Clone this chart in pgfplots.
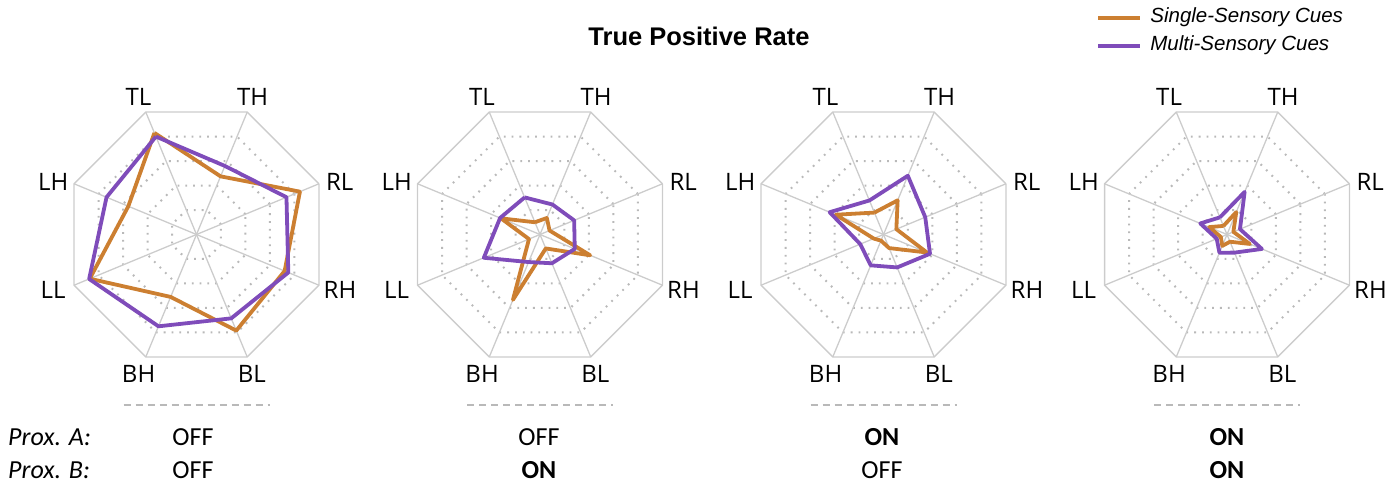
\documentclass[border=0pt]{standalone}
\usepackage{pgfplots}
\usepgfplotslibrary{polar}
\pgfplotsset{compat=1.18}
\usepackage{pgfplotstable}
\usepackage{fontspec}
\setmainfont{Liberation Sans}
\newfontfamily\labfont{Open Sans}
\newfontfamily\calfont{Carlito}

\definecolor{orangeC}{RGB}{204,127,49}
\definecolor{purpleC}{RGB}{127,76,186}
\definecolor{gridC}{RGB}{204,204,204}
\definecolor{dotC}{RGB}{185,185,185}
\definecolor{dashC}{RGB}{185,185,185}

% angle, single-sensory, multi-sensory
\pgfplotstableread{
a s m
112.5 0.830 0.800
67.5 0.475 0.560
22.5 0.845 0.735
337.5 0.720 0.750
292.5 0.785 0.685
247.5 0.510 0.750
202.5 0.872 0.877
157.5 0.557 0.735
112.5 0.830 0.800
}\tA
\pgfplotstableread{
a s m
112.5 0.100 0.303
67.5 0.135 0.245
22.5 0.078 0.279
337.5 0.410 0.284
292.5 0.114 0.235
247.5 0.534 0.225
202.5 0.090 0.459
157.5 0.319 0.326
112.5 0.100 0.303
}\tB
\pgfplotstableread{
a s m
112.5 0.179 0.278
67.5 0.279 0.480
22.5 0.105 0.341
337.5 0.355 0.380
292.5 0.111 0.269
247.5 0.050 0.252
202.5 0.080 0.190
157.5 0.390 0.440
112.5 0.179 0.278
}\tC
\pgfplotstableread{
a s m
112.5 0.070 0.140
67.5 0.183 0.348
22.5 0.052 0.106
337.5 0.186 0.285
292.5 0.059 0.148
247.5 0.093 0.149
202.5 0.050 0.084
157.5 0.146 0.218
112.5 0.070 0.140
}\tD

\newcommand{\ring}[2]{\addplot[forget plot,#2] coordinates {(22.5,#1) (67.5,#1) (112.5,#1) (157.5,#1) (202.5,#1) (247.5,#1) (292.5,#1) (337.5,#1) (22.5,#1)};}
\newcommand{\spoke}[1]{\addplot[forget plot,gridC,line width=1.3pt] coordinates {(#1,0) (#1,1)};}
\newcommand{\radargrid}{%
  \ring{0.2}{dotC,line width=2pt,dash pattern=on 1.8pt off 6pt}
  \ring{0.4}{dotC,line width=2pt,dash pattern=on 1.8pt off 6pt}
  \ring{0.6}{dotC,line width=2pt,dash pattern=on 1.8pt off 6pt}
  \ring{0.8}{dotC,line width=2pt,dash pattern=on 1.8pt off 6pt}
  \spoke{22.5}\spoke{67.5}\spoke{112.5}\spoke{157.5}
  \spoke{202.5}\spoke{247.5}\spoke{292.5}\spoke{337.5}
  \ring{1}{gridC,line width=1.3pt}
}
\newcommand{\radarlabels}{%
  \node[labfont] at (axis cs:112.8,1.128) {TL};
  \node[labfont] at (axis cs:67.9,1.124) {TH};
  \node[labfont] at (axis cs:20.0,1.150) {RL};
  \node[labfont] at (axis cs:-21.0,1.160) {RH};
  \node[labfont] at (axis cs:-68.4,1.133) {BL};
  \node[labfont] at (axis cs:-112.6,1.137) {BH};
  \node[labfont] at (axis cs:-159.0,1.160) {LL};
  \node[labfont] at (axis cs:160.0,1.150) {LH};
}
\tikzset{labfont/.style={font=\labfont\fontsize{24}{28}\selectfont, inner sep=0pt}}

\pgfplotsset{
  radar/.style={
    anchor=center, width=265pt, height=265pt, scale only axis,
    xmin=0, xmax=360, ymin=0, ymax=1,
    hide axis, clip=false,
  },
  single/.style={orangeC, line width=3.8pt, line join=round, no markers},
  multi/.style={purpleC, line width=3.8pt, line join=round, no markers},
}

\begin{document}
\begin{tikzpicture}
\useasboundingbox (0pt,0pt) rectangle (1398pt,485pt);

\begin{polaraxis}[radar, at={(196.5pt,250.5pt)}]
\radargrid
\addplot[single] table[x=a,y=s] {\tA};
\addplot[multi] table[x=a,y=m] {\tA};
\radarlabels
\end{polaraxis}

\begin{polaraxis}[radar, at={(540pt,250.5pt)}]
\radargrid
\addplot[single] table[x=a,y=s] {\tB};
\addplot[multi] table[x=a,y=m] {\tB};
\radarlabels
\end{polaraxis}

\begin{polaraxis}[radar, at={(883.5pt,250.5pt)}]
\radargrid
\addplot[single] table[x=a,y=s] {\tC};
\addplot[multi] table[x=a,y=m] {\tC};
\radarlabels
\end{polaraxis}

\begin{polaraxis}[radar, at={(1227pt,250.5pt)},
  legend style={at={(axis description cs:-0.005,1.368)}, anchor=north west, draw=none, fill=none,
    font=\fontsize{20.5}{24}\selectfont\itshape,
    nodes={inner sep=1pt, text height=15pt, text depth=5pt},
    row sep=6pt,
    /tikz/every odd column/.append style={column sep=7pt}},
  legend cell align=left,
  legend image code/.code={\draw[#1, line width=4pt] (0pt,0pt) -- (42pt,0pt);},
]
\radargrid
\addplot[single] table[x=a,y=s] {\tD};
\addlegendentry{Single-Sensory Cues}
\addplot[multi] table[x=a,y=m] {\tD};
\addlegendentry{Multi-Sensory Cues}
\radarlabels
\end{polaraxis}

\node[font=\fontsize{25.5}{30}\selectfont\bfseries] at (699pt,449pt) {True Positive Rate};

\foreach \cx in {196.5,540,883.5,1227}{
  \draw[dashC, line width=1.5pt, dash pattern=on 7pt off 5pt] (\cx pt-73pt,80pt) -- (\cx pt+73pt,80pt);
}

\tikzset{bot/.style={font=\calfont\fontsize{26}{30}\selectfont, inner sep=0pt}}
\node[bot, anchor=west, font=\calfont\itshape\fontsize{26}{30}\selectfont] at (8pt,48pt) {Prox. A:};
\node[bot, anchor=west, font=\calfont\itshape\fontsize{26}{30}\selectfont] at (8pt,15pt) {Prox. B:};
\node[bot] at (193pt,48pt) {OFF};
\node[bot] at (539pt,48pt) {OFF};
\node[bot] at (882pt,48pt) {\bfseries ON};
\node[bot] at (1227pt,48pt) {\bfseries ON};
\node[bot] at (193pt,15pt) {OFF};
\node[bot] at (539pt,15pt) {\bfseries ON};
\node[bot] at (882pt,15pt) {OFF};
\node[bot] at (1227pt,15pt) {\bfseries ON};
\end{tikzpicture}
\end{document}
